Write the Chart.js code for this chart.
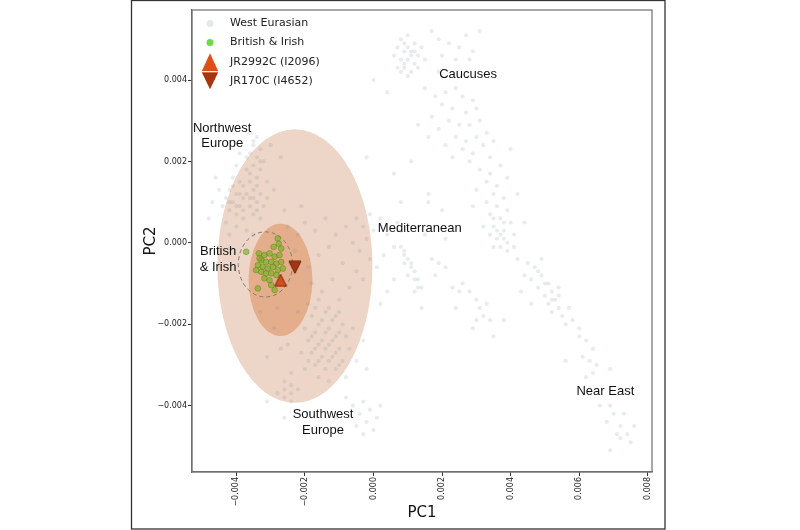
<!DOCTYPE html>
<html>
<head>
<meta charset="utf-8">
<script src="https://cdn.jsdelivr.net/npm/chart.js@4/dist/chart.umd.min.js"></script>
<style>
  html, body { margin: 0; padding: 0; background: #fff; }
  canvas { display: block; }
</style>
</head>
<body>
<canvas id="pcaChart" width="800" height="530"></canvas>
<script>
// axis ranges and ticks
const xRange = [-0.00529, 0.00812];
const yRange = [-0.00563, 0.00572];
const tickStep = 0.002;

// reference population samples (PC1, PC2)
const westEurasian = [
  // northwest europe
  [-0.0036,0.0027],[-0.0034,0.0026],[-0.0035,0.0024],[-0.0033,0.0023],[-0.0036,0.0022],[-0.0034,0.0021],
  [-0.0035,0.0019],[-0.0033,0.0018],[-0.0037,0.0018],[-0.0034,0.0016],[-0.0036,0.0015],[-0.0035,0.0013],
  [-0.0033,0.0012],[-0.0037,0.0012],[-0.0034,0.0010],[-0.0036,0.0009],[-0.0035,0.0007],[-0.0033,0.0006],
  [-0.0038,0.0014],[-0.0032,0.0020],[-0.0031,0.0015],[-0.0030,0.0024],[-0.0029,0.0013],[-0.0027,0.0021],
  [-0.0041,0.0016],[-0.0039,0.0015],[-0.0042,0.0013],[-0.0040,0.0012],[-0.0043,0.0011],[-0.0041,0.0010],
  [-0.0039,0.0009],[-0.0042,0.0008],[-0.0040,0.0007],[-0.0038,0.0011],[-0.0044,0.0009],[-0.0045,0.0013],
  [-0.0038,0.0006],[-0.0040,0.0019],[-0.0043,0.0005],[-0.0039,0.0022],[-0.0046,0.0016],[-0.0047,0.0010],
  [-0.0048,0.0006],[-0.0040,0.0004],[-0.0037,0.0003],[-0.0042,0.0002],[-0.0035,0.0002],[-0.0032,0.0009],
  [-0.0035,0.0025],[-0.0033,0.0020],[-0.0036,0.0017],[-0.0034,0.0014],[-0.0036,0.0011],[-0.0034,0.0008],
  [-0.0041,0.0014],[-0.0039,0.0012],[-0.0042,0.0010],[-0.0040,0.0009],[-0.0038,0.0008],[-0.0037,0.0021],
  [-0.0035,0.0011],[-0.0031,0.0011],
  // spread inside the ellipse
  [-0.0020,0.0005],[-0.0017,0.0003],[-0.0014,0.0006],[-0.0011,0.0002],[-0.0008,0.0004],[-0.0006,0.0000],
  [-0.0004,-0.0002],[-0.0002,0.0001],[-0.0013,-0.0001],[-0.0016,-0.0003],[-0.0009,-0.0005],[-0.0005,-0.0007],
  [-0.0019,-0.0006],[-0.0022,0.0002],[-0.0025,0.0004],[-0.0003,-0.0009],[-0.0007,-0.0011],[-0.0012,-0.0009],
  [-0.0015,-0.0012],[-0.0010,-0.0014],[-0.0018,-0.0010],[-0.0001,-0.0004],[0.0000,0.0003],[-0.0023,-0.0002],
  [-0.0026,0.0008],[-0.0021,0.0009],[-0.0005,0.0006],[-0.0003,0.0004],[-0.0001,0.0007],
  [-0.0033,-0.0017],[-0.0029,-0.0021],[-0.0027,-0.0026],[-0.0031,-0.0028],[-0.0024,-0.0032],[-0.0028,-0.0016],
  // southwest europe
  [-0.0019,-0.0015],[-0.0016,-0.0014],[-0.0013,-0.0016],[-0.0010,-0.0017],[-0.0018,-0.0018],[-0.0015,-0.0019],
  [-0.0012,-0.0019],[-0.0009,-0.0020],[-0.0020,-0.0021],[-0.0017,-0.0022],[-0.0014,-0.0022],[-0.0011,-0.0023],
  [-0.0008,-0.0023],[-0.0019,-0.0024],[-0.0016,-0.0025],[-0.0013,-0.0025],[-0.0010,-0.0026],[-0.0018,-0.0027],
  [-0.0015,-0.0028],[-0.0012,-0.0028],[-0.0009,-0.0029],[-0.0017,-0.0030],[-0.0014,-0.0031],[-0.0011,-0.0031],
  [-0.0021,-0.0027],[-0.0022,-0.0017],[-0.0007,-0.0026],[-0.0006,-0.0021],[-0.0016,-0.0033],[-0.0013,-0.0034],
  [-0.0020,-0.0031],[-0.0005,-0.0029],[-0.0008,-0.0033],[-0.0003,-0.0024],[-0.0002,-0.0031],[-0.0025,-0.0025],
  [-0.0017,-0.0016],[-0.0014,-0.0017],[-0.0011,-0.0018],[-0.0016,-0.0020],[-0.0013,-0.0021],[-0.0010,-0.0022],
  [-0.0018,-0.0023],[-0.0015,-0.0024],[-0.0012,-0.0024],[-0.0017,-0.0026],[-0.0014,-0.0026],[-0.0011,-0.0027],
  [-0.0016,-0.0029],[-0.0013,-0.0029],[-0.0019,-0.0029],[-0.0010,-0.0030],
  [-0.0026,-0.0034],[-0.0024,-0.0035],[-0.0026,-0.0036],[-0.0024,-0.0037],[-0.0026,-0.0038],[-0.0024,-0.0039],
  [-0.0022,-0.0036],[-0.0028,-0.0037],[-0.0031,-0.0039],[-0.0026,-0.0043],
  [-0.0006,-0.0040],[-0.0003,-0.0039],[-0.0001,-0.0041],[-0.0004,-0.0042],[0.0001,-0.0043],[-0.0002,-0.0044],
  [-0.0005,-0.0045],[0.0000,-0.0046],[-0.0003,-0.0047],[-0.0011,-0.0043],[0.0002,-0.0040],[-0.0008,-0.0038],
  // mediterranean
  [0.0002,0.0006],[0.0004,0.0002],[0.0006,-0.0001],[0.0003,-0.0003],[0.0008,0.0003],[0.0001,-0.0006],
  [0.0004,-0.0012],[0.0006,-0.0009],[0.0007,0.0005],[0.0013,0.0004],[0.0015,0.0002],[0.0021,0.0001],
  [0.0008,-0.0001],[0.0009,-0.0003],[0.0010,-0.0004],[0.0011,-0.0006],[0.0012,-0.0007],[0.0013,-0.0009],
  [0.0014,-0.0011],[0.0010,-0.0008],[0.0012,-0.0012],[0.0009,-0.0005],[0.0017,-0.0004],[0.0019,-0.0005],
  [0.0021,-0.0006],[0.0023,-0.0011],[0.0025,-0.0012],[0.0026,-0.0010],[0.0014,-0.0016],[0.0024,-0.0016],
  [0.0028,-0.0012],[0.0030,-0.0014],[0.0031,-0.0016],[0.0033,-0.0015],[0.0032,-0.0018],[0.0034,-0.0019],
  [0.0030,-0.0019],[0.0035,-0.0023],[0.0038,-0.0019],[0.0029,-0.0021],[0.0002,-0.0015],[0.0016,0.0010],
  [0.0020,0.0008],[0.0018,-0.0008],[0.0009,-0.0002],[0.0011,-0.0005],[0.0012,-0.0009],[0.0013,-0.0011],
  // caucasus
  [0.0008,0.0050],[0.0010,0.0051],[0.0012,0.0049],[0.0007,0.0048],[0.0009,0.0047],[0.0011,0.0047],
  [0.0013,0.0046],[0.0008,0.0045],[0.0010,0.0045],[0.0012,0.0044],[0.0009,0.0043],[0.0011,0.0042],
  [0.0014,0.0048],[0.0006,0.0046],[0.0013,0.0043],[0.0010,0.0041],[0.0015,0.0045],[0.0007,0.0043],
  [0.0009,0.0049],[0.0011,0.0046],[0.0009,0.0044],[0.0012,0.0047],[0.0010,0.0048],[0.0008,0.0042],
  [0.0017,0.0052],[0.0019,0.0050],[0.0022,0.0049],[0.0025,0.0048],[0.0027,0.0051],[0.0029,0.0047],
  [0.0031,0.0052],[0.0024,0.0045],[0.0020,0.0046],[0.0028,0.0045],
  [0.0015,0.0038],[0.0018,0.0036],[0.0021,0.0037],[0.0024,0.0038],[0.0026,0.0036],[0.0029,0.0035],
  [0.0020,0.0034],[0.0023,0.0033],[0.0027,0.0032],[0.0030,0.0033],[0.0017,0.0031],[0.0022,0.0030],
  [0.0025,0.0029],[0.0028,0.0029],[0.0031,0.0030],[0.0019,0.0028],[0.0024,0.0026],[0.0027,0.0025],
  [0.0030,0.0026],[0.0033,0.0027],[0.0021,0.0024],[0.0026,0.0023],[0.0029,0.0022],[0.0032,0.0024],
  [0.0035,0.0025],[0.0016,0.0026],[0.0013,0.0029],[0.0034,0.0021],[0.0028,0.0020],[0.0023,0.0021],
  [0.0031,0.0018],[0.0034,0.0017],[0.0037,0.0019],[0.0033,0.0015],[0.0036,0.0014],[0.0039,0.0016],
  [0.0030,0.0013],[0.0035,0.0012],[0.0038,0.0011],[0.0033,0.0010],[0.0036,0.0009],[0.0039,0.0008],
  [0.0034,0.0007],[0.0037,0.0006],[0.0040,0.0005],[0.0035,0.0004],[0.0038,0.0003],[0.0036,0.0001],
  [0.0039,0.0000],[0.0041,0.0002],[0.0042,0.0012],[0.0029,0.0009],[0.0032,0.0004],[0.0037,-0.0001],
  [0.0034,0.0002],[0.0035,0.0006],[0.0036,0.0003],[0.0038,0.0005],[0.0037,0.0002],[0.0035,-0.0001],
  [0.0038,0.0001],[0.0039,-0.0002],
  [0.0000,0.0040],[0.0006,0.0017],[0.0011,0.0020],[0.0004,0.0037],[0.0019,0.0042],
  [0.0040,0.0023],[0.0044,0.0005],[0.0008,0.0010],[0.0016,0.0012],[-0.0002,0.0021],
  // towards the near east
  [0.0042,-0.0004],[0.0045,-0.0005],[0.0044,-0.0008],[0.0047,-0.0006],[0.0046,-0.0009],[0.0049,-0.0008],
  [0.0048,-0.0011],[0.0051,-0.0010],[0.0050,-0.0013],[0.0052,-0.0012],[0.0053,-0.0014],[0.0051,-0.0015],
  [0.0054,-0.0016],[0.0052,-0.0017],[0.0055,-0.0018],[0.0057,-0.0016],[0.0056,-0.0020],[0.0058,-0.0019],
  [0.0060,-0.0021],[0.0043,-0.0012],[0.0046,-0.0015],[0.0049,-0.0004],[0.0041,-0.0001],[0.0054,-0.0011],
  [0.0050,-0.0010],[0.0052,-0.0014],[0.0054,-0.0013],[0.0048,-0.0007],
  [0.0060,-0.0023],[0.0062,-0.0024],[0.0064,-0.0026],[0.0061,-0.0028],[0.0063,-0.0029],[0.0065,-0.0030],
  [0.0056,-0.0029],[0.0062,-0.0033],[0.0069,-0.0031],[0.0064,-0.0032],
  [0.0069,-0.0040],[0.0070,-0.0042],[0.0073,-0.0042],[0.0068,-0.0044],[0.0072,-0.0045],[0.0076,-0.0045],
  [0.0071,-0.0047],[0.0074,-0.0047],[0.0072,-0.0048],[0.0075,-0.0049],[0.0069,-0.0051],[0.0066,-0.0040]
];

const britishIrish = [
  [-0.00279,0.00011],[-0.00276,-0.00002],[-0.00291,-0.00010],[-0.00269,-0.00014],[-0.00334,-0.00026],
  [-0.00318,-0.00030],[-0.00303,-0.00026],[-0.00288,-0.00034],[-0.00274,-0.00030],[-0.00327,-0.00042],
  [-0.00313,-0.00047],[-0.00298,-0.00047],[-0.00283,-0.00051],[-0.00269,-0.00047],[-0.00337,-0.00055],
  [-0.00323,-0.00059],[-0.00308,-0.00063],[-0.00293,-0.00059],[-0.00279,-0.00067],[-0.00264,-0.00063],
  [-0.00327,-0.00071],[-0.00313,-0.00075],[-0.00298,-0.00075],[-0.00283,-0.00079],[-0.00318,-0.00087],
  [-0.00303,-0.00092],[-0.00337,-0.00112],[-0.00288,-0.00116],[-0.00332,-0.00038],[-0.00342,-0.00067],
  [-0.00298,-0.00104],[-0.00371,-0.00022]
];

const jr2992c = [[-0.00271,-0.00092]];
const jr170c = [[-0.00229,-0.00060]];

const seriesNames = ['West Eurasian', 'British & Irish', 'JR2992C (I2096)', 'JR170C (I4652)'];

// shaded regions: outer spread, inner spread, dashed british & irish circle
const ellipseCentreX = [-0.00229, -0.00271, -0.00315];
const ellipseCentreY = [-0.00057, -0.00091, -0.00053];
const ellipseRadiusX = [0.00226, 0.00093, 0.00079];
const ellipseRadiusY = [0.00336, 0.00138, 0.00080];

// region annotations
const regionNames = [['Northwest', 'Europe'], ['British', '& Irish'], ['Mediterranean'], ['Caucuses'], ['Near East'], ['Southwest', 'Europe']];
const regionX = [-0.00441, -0.00453, 0.00135, 0.00276, 0.00676, -0.00147];
const regionY = [0.00263, -0.00041, 0.00035, 0.00414, -0.00364, -0.00441];

function toPoints(list) {
  return list.map(p => ({ x: p[0], y: p[1] }));
}

function triangleIcon(w, h, up, fill, stroke, lw) {
  const c = document.createElement('canvas');
  c.width = w + 2;
  c.height = h + 2;
  const g = c.getContext('2d');
  g.beginPath();
  if (up) {
    g.moveTo(c.width / 2, 1);
    g.lineTo(w + 1, h + 1);
    g.lineTo(1, h + 1);
  } else {
    g.moveTo(1, 1);
    g.lineTo(w + 1, 1);
    g.lineTo(c.width / 2, h + 1);
  }
  g.closePath();
  g.fillStyle = fill;
  g.fill();
  g.strokeStyle = stroke;
  g.lineWidth = lw;
  g.stroke();
  return c;
}

const upColor = '#cf4f1e';
const downColor = '#a5360f';
const upIcon = triangleIcon(12, 12, true, upColor, '#7a2408', 1);
const downIcon = triangleIcon(12, 12, false, downColor, '#6a1e06', 1);

function fmtTick(value) {
  const v = Math.round(value * 1e6) / 1e6;
  if (Math.abs(v) < 1e-9) return '0.000';
  return v.toFixed(3).replace('-', '\u2212');
}

const decorPlugin = {
  id: 'decor',
  beforeDatasetsDraw(chart) {
    const { ctx, chartArea, scales: { x, y } } = chart;
    ctx.save();
    ctx.beginPath();
    ctx.rect(chartArea.left, chartArea.top, chartArea.right - chartArea.left, chartArea.bottom - chartArea.top);
    ctx.clip();
    const fills = ['#edd5c7', '#e4ad8b', null];
    for (let i = 0; i < ellipseCentreX.length; i++) {
      const cx = x.getPixelForValue(ellipseCentreX[i]);
      const cy = y.getPixelForValue(ellipseCentreY[i]);
      const rx = Math.abs(x.getPixelForValue(ellipseCentreX[i] + ellipseRadiusX[i]) - cx);
      const ry = Math.abs(y.getPixelForValue(ellipseCentreY[i] + ellipseRadiusY[i]) - cy);
      ctx.beginPath();
      ctx.ellipse(cx, cy, rx, ry, 0, 0, Math.PI * 2);
      if (fills[i]) {
        ctx.fillStyle = fills[i];
        ctx.fill();
      } else {
        ctx.setLineDash([4, 3]);
        ctx.strokeStyle = '#8a7a72';
        ctx.lineWidth = 1;
        ctx.stroke();
        ctx.setLineDash([]);
      }
    }
    ctx.restore();
  },
  afterDatasetsDraw(chart) {
    const { ctx, scales: { x, y } } = chart;
    ctx.save();
    ctx.fillStyle = '#111';
    ctx.font = '13px "Liberation Sans", Arial, sans-serif';
    ctx.textAlign = 'center';
    ctx.textBaseline = 'middle';
    const lh = 15.6;
    regionNames.forEach((lines, i) => {
      const px = x.getPixelForValue(regionX[i]);
      const py = y.getPixelForValue(regionY[i]);
      const top = py - (lines.length - 1) * lh / 2;
      lines.forEach((t, k) => ctx.fillText(t, px, top + k * lh));
    });
    ctx.restore();
  },
  afterDraw(chart) {
    const { ctx, chartArea } = chart;
    ctx.save();
    // plot frame
    ctx.strokeStyle = '#6e6e6e';
    ctx.lineWidth = 1.2;
    ctx.strokeRect(chartArea.left, chartArea.top, chartArea.right - chartArea.left, chartArea.bottom - chartArea.top);
    // outer figure frame
    ctx.strokeStyle = '#333';
    ctx.lineWidth = 1.3;
    ctx.strokeRect(131.5, 0.5, 533.5, 528.5);

    // legend
    const lx = chartArea.left + 18;
    const tx = chartArea.left + 38;
    const rows = [chartArea.top + 13.5, chartArea.top + 32.5, chartArea.top + 52, chartArea.top + 71];
    ctx.beginPath();
    ctx.arc(lx, rows[0], 3.5, 0, Math.PI * 2);
    ctx.fillStyle = '#e4e8ea';
    ctx.fill();
    ctx.beginPath();
    ctx.arc(lx, rows[1], 3.5, 0, Math.PI * 2);
    ctx.fillStyle = '#6fd94a';
    ctx.fill();
    const mid = chartArea.top + 61.7;
    ctx.beginPath();
    ctx.moveTo(lx, mid - 18.5);
    ctx.lineTo(lx + 8.5, mid);
    ctx.lineTo(lx - 8.5, mid);
    ctx.closePath();
    ctx.fillStyle = '#de4f16';
    ctx.fill();
    ctx.beginPath();
    ctx.moveTo(lx - 8.5, mid);
    ctx.lineTo(lx + 8.5, mid);
    ctx.lineTo(lx, mid + 17.5);
    ctx.closePath();
    ctx.fillStyle = downColor;
    ctx.fill();
    ctx.beginPath();
    ctx.moveTo(lx - 9, mid);
    ctx.lineTo(lx + 9, mid);
    ctx.strokeStyle = '#ffffff';
    ctx.lineWidth = 1.2;
    ctx.stroke();
    ctx.fillStyle = '#222';
    ctx.font = '11px "DejaVu Sans", sans-serif';
    ctx.textAlign = 'left';
    ctx.textBaseline = 'middle';
    seriesNames.forEach((n, i) => ctx.fillText(n, tx, rows[i]));
    ctx.restore();
  }
};

new Chart(document.getElementById('pcaChart'), {
  type: 'scatter',
  data: {
    datasets: [
      {
        label: seriesNames[0],
        data: toPoints(westEurasian),
        order: 4,
        pointStyle: 'circle',
        pointRadius: 2.1,
        pointBorderWidth: 0,
        backgroundColor: 'rgba(105,125,135,0.15)'
      },
      {
        label: seriesNames[1],
        data: toPoints(britishIrish),
        order: 3,
        pointRadius: 2.9,
        pointBorderWidth: 0.8,
        backgroundColor: 'rgba(118,175,30,0.62)',
        borderColor: 'rgba(85,135,20,0.55)'
      },
      {
        label: seriesNames[2],
        data: toPoints(jr2992c),
        order: 2,
        pointStyle: upIcon
      },
      {
        label: seriesNames[3],
        data: toPoints(jr170c),
        order: 1,
        pointStyle: downIcon
      }
    ]
  },
  options: {
    responsive: false,
    animation: false,
    events: [],
    layout: { padding: { left: 131, top: 10, right: 148, bottom: 0 } },
    plugins: {
      legend: { display: false },
      tooltip: { enabled: false }
    },
    scales: {
      x: {
        type: 'linear',
        min: xRange[0],
        max: xRange[1],
        afterFit: function(scale) {
          scale.height = 58;
          scale.paddingLeft = 0;
          scale.paddingRight = 0;
        },
        border: { display: true, color: '#6e6e6e', width: 1.2 },
        grid: { drawOnChartArea: false, drawTicks: true, tickLength: 4, color: '#333' },
        ticks: {
          stepSize: tickStep,
          includeBounds: false,
          minRotation: 90,
          maxRotation: 90,
          padding: 1,
          color: '#222',
          font: { family: 'DejaVu Sans', size: 8 },
          callback: fmtTick
        },
        title: {
          display: true,
          text: 'PC1',
          color: '#111',
          font: { family: 'DejaVu Sans', size: 15 },
          padding: { top: 0, bottom: 8 }
        }
      },
      y: {
        type: 'linear',
        min: yRange[0],
        max: yRange[1],
        afterFit: function(scale) {
          scale.width = 61;
          scale.paddingTop = 0;
          scale.paddingBottom = 0;
        },
        border: { display: true, color: '#6e6e6e', width: 1.2 },
        grid: { drawOnChartArea: false, drawTicks: true, tickLength: 4, color: '#333' },
        ticks: {
          stepSize: tickStep,
          includeBounds: false,
          padding: 1,
          color: '#222',
          font: { family: 'DejaVu Sans', size: 8 },
          callback: fmtTick
        },
        title: {
          display: true,
          text: 'PC2',
          color: '#111',
          font: { family: 'DejaVu Sans', size: 15 },
          padding: { top: 11, bottom: 0 }
        }
      }
    }
  },
  plugins: [decorPlugin]
});
</script>
</body>
</html>
